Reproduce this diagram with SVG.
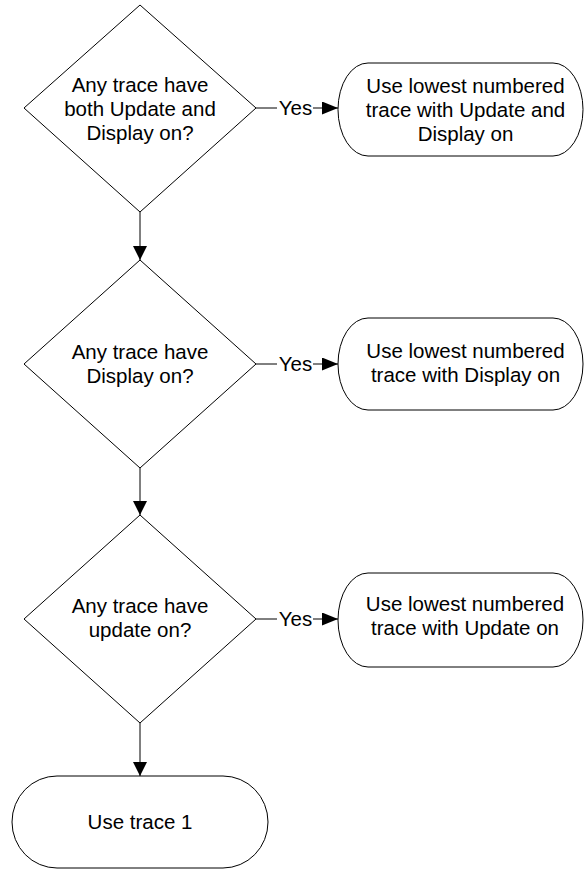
<svg xmlns="http://www.w3.org/2000/svg" width="584" height="869" viewBox="0 0 584 869">
<style>
.s{fill:#fff;stroke:#000;stroke-width:1}
.t{font-family:"Liberation Sans",Arial,sans-serif;font-size:20.5px;fill:#000;text-anchor:middle}
.c{stroke:#000;stroke-width:1;fill:none}
</style>
<defs>
<marker id="ah" markerWidth="16" markerHeight="13" refX="16" refY="6.5" orient="auto" markerUnits="userSpaceOnUse">
<path d="M0,0 L16,6.5 L0,13 Z" fill="#000"/>
</marker>
<marker id="av" markerWidth="15" markerHeight="14" refX="14" refY="7" orient="auto" markerUnits="userSpaceOnUse">
<path d="M0,0 L14,7 L0,14 Z" fill="#000"/>
</marker>
</defs>
<g id="d1">
<polygon class="s" points="140,5 256,108 140,212 24,108"/>
<text class="t" x="140" y="92">Any trace have</text>
<text class="t" x="140" y="116">both Update and</text>
<text class="t" x="140" y="140">Display on?</text>
</g>
<g id="t1">
<rect class="s" x="338" y="63" width="245" height="93" rx="30" ry="46.5"/>
<text class="t" x="465.5" y="93">Use lowest numbered</text>
<text class="t" x="465.5" y="117">trace with Update and</text>
<text class="t" x="465.5" y="141">Display on</text>
</g>
<g id="d2">
<polygon class="s" points="140,260 256,364 140,468 24,364"/>
<text class="t" x="140" y="359">Any trace have</text>
<text class="t" x="140" y="383">Display on?</text>
</g>
<g id="t2">
<rect class="s" x="338" y="318" width="245" height="92" rx="30" ry="46"/>
<text class="t" x="465.5" y="358">Use lowest numbered</text>
<text class="t" x="465.5" y="382">trace with Display on</text>
</g>
<g id="d3">
<polygon class="s" points="140,515 256,619 140,723 24,619"/>
<text class="t" x="140" y="613">Any trace have</text>
<text class="t" x="140" y="637">update on?</text>
</g>
<g id="t3">
<rect class="s" x="338" y="573" width="245" height="94" rx="30" ry="47"/>
<text class="t" x="465" y="611">Use lowest numbered</text>
<text class="t" x="465" y="635">trace with Update on</text>
</g>
<g id="t4">
<rect class="s" x="12" y="776" width="256" height="92" rx="45" ry="46"/>
<text class="t" x="140" y="829">Use trace 1</text>
</g>
<g id="connectors">
<line class="c" x1="140" y1="212" x2="140" y2="260" marker-end="url(#av)"/>
<line class="c" x1="140" y1="468" x2="140" y2="515" marker-end="url(#av)"/>
<line class="c" x1="140" y1="723" x2="140" y2="776" marker-end="url(#av)"/>
<line class="c" x1="256" y1="108" x2="277" y2="108"/>
<text class="t" x="295.5" y="115">Yes</text>
<line class="c" x1="313" y1="108" x2="338" y2="108" marker-end="url(#ah)"/>
<line class="c" x1="256" y1="364" x2="277" y2="364"/>
<text class="t" x="295.5" y="371">Yes</text>
<line class="c" x1="313" y1="364" x2="338" y2="364" marker-end="url(#ah)"/>
<line class="c" x1="256" y1="619" x2="277" y2="619"/>
<text class="t" x="295.5" y="626">Yes</text>
<line class="c" x1="313" y1="619" x2="338" y2="619" marker-end="url(#ah)"/>
</g>
</svg>
